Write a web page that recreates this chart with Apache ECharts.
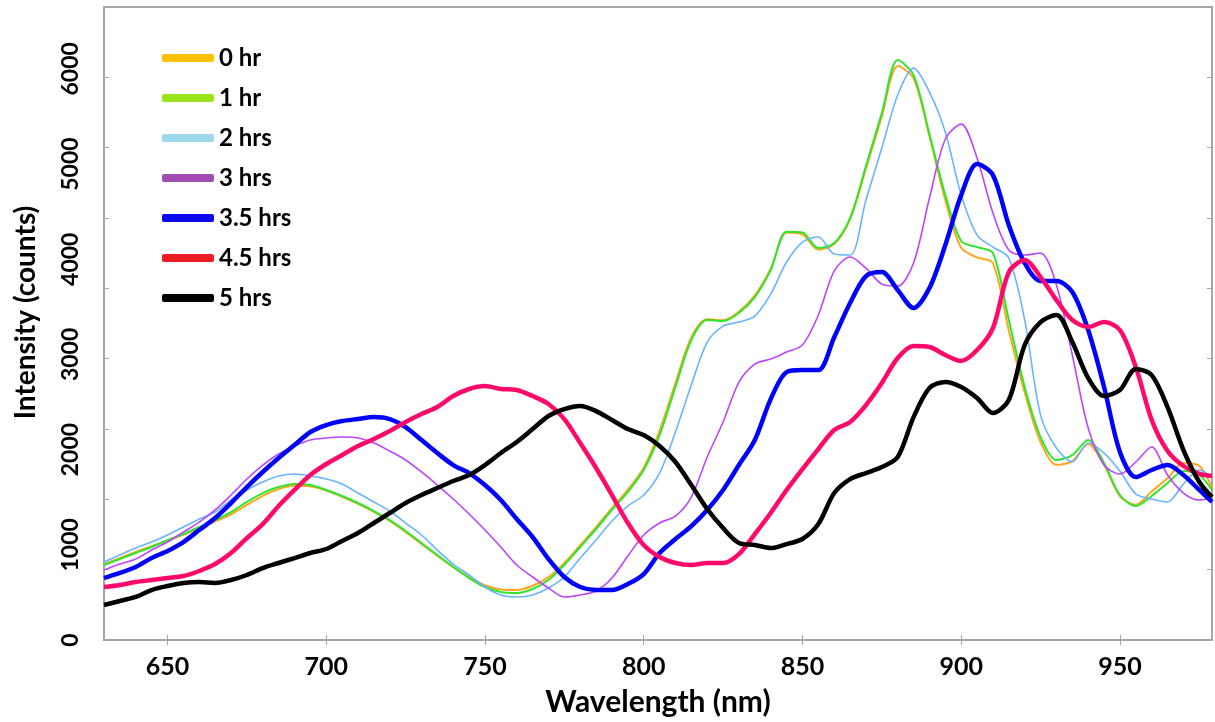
<!DOCTYPE html>
<html>
<head>
<meta charset="utf-8">
<script src="https://cdn.jsdelivr.net/npm/echarts@6/dist/echarts.min.js"></script>
<style>html,body{margin:0;padding:0;background:#fff}#chart{width:1215px;height:722px}</style>
</head>
<body>
<div id="chart"></div>
<script>
const wavelengths = [630,635,640,645,650,655,660,665,670,675,680,685,690,695,700,705,710,715,720,725,730,735,740,745,750,755,760,765,770,775,780,785,790,795,800,805,810,815,820,825,830,835,840,845,850,855,860,865,870,875,880,885,890,895,900,905,910,915,920,925,930,935,940,945,950,955,960,965,970,975,979];
const seriesNames = ['0 hr','1 hr','2 hrs','3 hrs','3.5 hrs','4.5 hrs','5 hrs'];
const hr0 = [800,860,925,985,1045,1105,1175,1245,1320,1420,1515,1585,1620,1615,1570,1505,1430,1345,1250,1135,1010,885,765,660,575,530,525,570,660,810,995,1185,1385,1580,1810,2200,2700,3180,3370,3360,3450,3620,3900,4280,4260,4100,4160,4420,4950,5500,6030,5900,5290,4620,4120,4020,3960,3250,2600,2080,1840,1880,2060,1840,1510,1420,1560,1700,1860,1830,1600];
const hr1 = [788,851,914,977,1050,1113,1187,1260,1344,1450,1544,1607,1639,1628,1576,1513,1439,1355,1260,1145,1019,893,767,651,557,504,494,536,630,788,977,1166,1366,1555,1786,2153,2658,3151,3361,3351,3435,3603,3886,4290,4280,4118,4170,4433,4979,5536,6092,5935,5315,4674,4191,4128,4065,3361,2658,2132,1891,1943,2101,1859,1523,1408,1513,1649,1775,1733,1576];
const hr2 = [819,893,966,1029,1103,1187,1271,1345,1471,1576,1660,1723,1744,1723,1691,1639,1544,1450,1355,1229,1103,945,798,683,557,473,452,473,546,662,861,1050,1250,1408,1523,1754,2185,2679,3130,3298,3340,3403,3634,3971,4181,4233,4055,4044,4622,5168,5725,6008,5756,5336,4674,4254,4128,4013,3361,2363,2017,1870,2069,1964,1775,1534,1481,1450,1639,1786,1712];
const hr3 = [735,798,851,945,1029,1134,1239,1366,1523,1691,1838,1954,2038,2101,2122,2132,2122,2069,1985,1891,1765,1628,1481,1324,1155,977,788,662,546,452,473,515,651,882,1103,1229,1302,1502,1922,2290,2710,2899,2952,3025,3099,3414,3876,4023,3907,3739,3718,3960,4643,5263,5420,5063,4485,4097,4044,4065,3729,2994,2227,1838,1744,1870,2027,1733,1544,1471,1492];
const hr35 = [651,704,767,861,935,1029,1155,1281,1439,1607,1765,1912,2048,2185,2258,2300,2321,2342,2321,2237,2101,1964,1838,1754,1628,1471,1271,1082,851,662,557,525,525,588,693,914,1061,1197,1366,1576,1838,2101,2531,2815,2836,2836,3180,3540,3823,3865,3676,3487,3697,4149,4674,5000,4884,4359,3960,3771,3771,3655,3256,2658,1975,1712,1786,1838,1733,1576,1450];
const hr45 = [557,578,609,630,651,672,725,798,914,1071,1218,1408,1576,1733,1849,1943,2038,2111,2195,2290,2374,2447,2563,2637,2668,2637,2626,2563,2479,2321,2069,1807,1523,1229,998,872,809,788,809,809,903,1113,1334,1576,1796,2006,2206,2290,2468,2700,2962,3088,3078,2994,2931,3046,3277,3865,3992,3813,3571,3361,3288,3340,3256,2868,2311,1985,1828,1744,1723];
const hr5 = [368,410,452,525,567,599,609,599,630,683,756,809,861,914,956,1040,1124,1229,1334,1439,1523,1597,1670,1733,1838,1964,2080,2216,2353,2426,2458,2405,2311,2216,2153,2038,1870,1628,1376,1176,1019,998,966,1008,1061,1218,1544,1691,1754,1817,1922,2342,2647,2710,2658,2542,2384,2521,3099,3340,3414,3130,2752,2563,2626,2847,2783,2447,1996,1660,1502];
const xTickLabels = [650,700,750,800,850,900,950];
const yTickLabels = [0,1000,2000,3000,4000,5000,6000];

const allValues = [hr0, hr1, hr2, hr3, hr35, hr45, hr5];
const lineColors = ['#FFA51F','#2EE62E','#6AB4FF','#BC45FF','#0000FF','#FF0A6A','#000000'];
const legendColors = ['#FFC000','#9AE21A','#9ED8EC','#A04CB0','#0A0AF0','#EE1C25','#000000'];
const lineWidths = [2,2,1.6,1.6,4.5,4.5,4.5];
const X_MIN = 630, X_MAX = 979, Y_MAX = 6650;
const yTickMarks = Array.from({length: 10}, (_, i) => i * Y_MAX / 9);
const axisGray = '#A6A6A6';
const font = 'Lato';

const chart = echarts.init(document.getElementById('chart'), null, {renderer: 'canvas'});
chart.setOption({
  animation: false,
  backgroundColor: '#ffffff',
  grid: {left: 104, right: 3, top: 7, bottom: 82, show: true, borderColor: axisGray, borderWidth: 2, backgroundColor: 'transparent'},
  legend: {
    orient: 'vertical', left: 157, top: 40,
    itemWidth: 52, itemHeight: 8, itemGap: 14, icon: 'roundRect',
    textStyle: {fontFamily: font, fontWeight: 'bold', fontSize: 24, color: '#000', lineHeight: 26},
    data: seriesNames.map((n, i) => ({name: n, itemStyle: {color: legendColors[i]}, lineStyle: {color: legendColors[i]}}))
  },
  xAxis: [{
    type: 'value', min: X_MIN, max: X_MAX, position: 'bottom',
    axisLine: {show: true, lineStyle: {color: axisGray, width: 2}},
    axisTick: {show: true, inside: true, length: 5, customValues: xTickLabels, lineStyle: {color: axisGray}},
    axisLabel: {customValues: xTickLabels, fontFamily: font, fontWeight: 'bold', fontSize: 25, color: '#000', margin: 14},
    splitLine: {show: false},
    name: 'Wavelength (nm)', nameLocation: 'middle', nameGap: 47,
    nameTextStyle: {fontFamily: font, fontWeight: 'bold', fontSize: 30, color: '#000'}
  }, {
    type: 'value', min: X_MIN, max: X_MAX, position: 'top',
    axisLine: {show: false},
    axisTick: {show: true, inside: true, length: 5, customValues: xTickLabels, lineStyle: {color: axisGray}},
    axisLabel: {show: false}, splitLine: {show: false}
  }],
  yAxis: [{
    type: 'value', min: 0, max: Y_MAX, position: 'left',
    axisLine: {show: true, lineStyle: {color: axisGray, width: 2}},
    axisTick: {show: true, inside: true, length: 5, customValues: yTickMarks, lineStyle: {color: axisGray}},
    axisLabel: {customValues: yTickLabels, rotate: 90, formatter: v => String(v), fontFamily: font, fontWeight: 'bold', fontSize: 23, color: '#000', margin: 22},
    splitLine: {show: false},
    name: 'Intensity (counts)', nameLocation: 'middle', nameGap: 64,
    nameTextStyle: {fontFamily: font, fontWeight: 'bold', fontSize: 28, color: '#000', padding: [0, 0, 0, 22]}
  }, {
    type: 'value', min: 0, max: Y_MAX, position: 'right',
    axisLine: {show: false},
    axisTick: {show: true, inside: true, length: 5, customValues: yTickMarks, lineStyle: {color: axisGray}},
    axisLabel: {show: false}, splitLine: {show: false}
  }],
  series: seriesNames.map((n, i) => ({
    name: n, type: 'line', xAxisIndex: 0, yAxisIndex: 0,
    showSymbol: false, symbol: 'none', smooth: 0.3,
    lineStyle: {color: lineColors[i], width: lineWidths[i]},
    itemStyle: {color: lineColors[i]},
    data: wavelengths.map((w, k) => [w, allValues[i][k]])
  }))
});
</script>
</body>
</html>
